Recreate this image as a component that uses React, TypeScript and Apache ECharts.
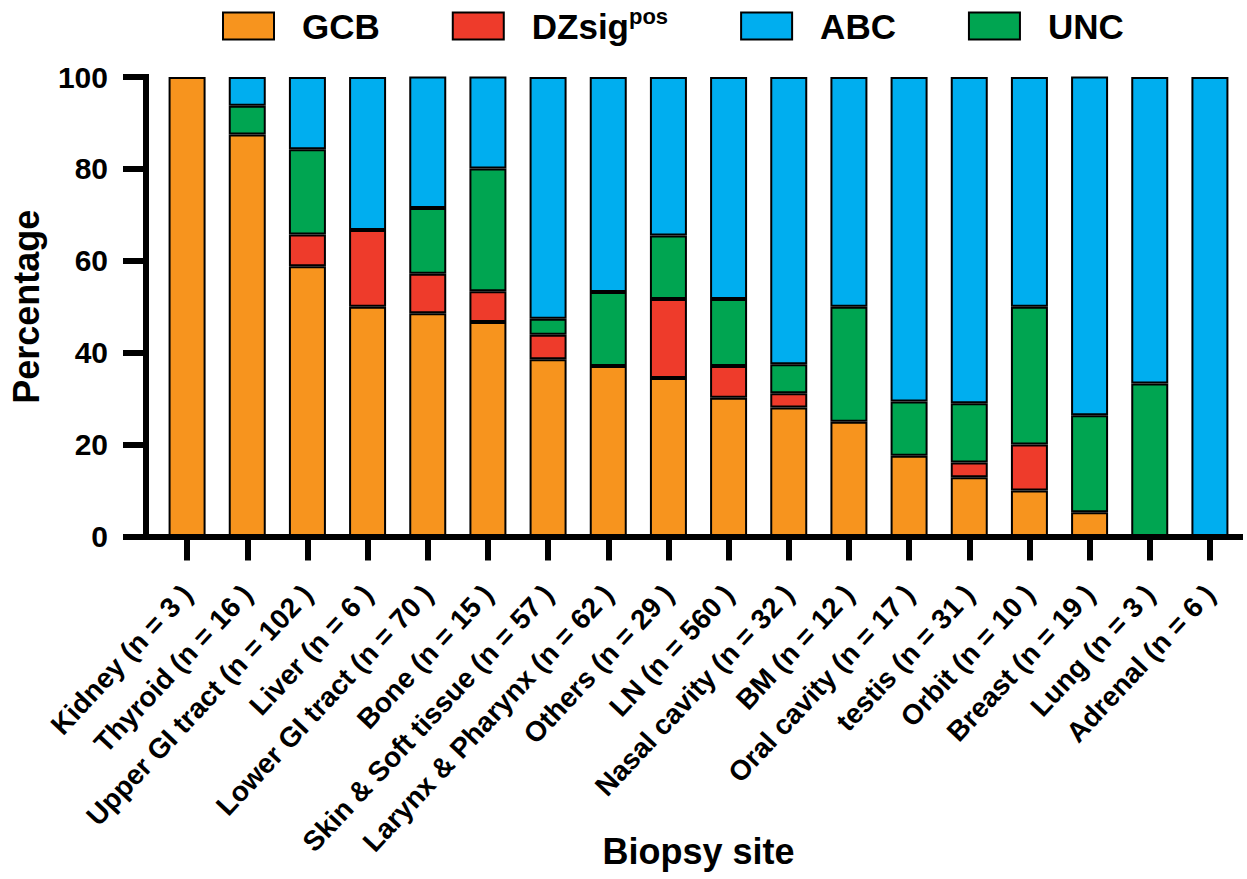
import React, { useEffect, useRef } from "react";
import * as echarts from "echarts";

// Biopsy sites with the number of cases in each
const categories = [
  "Kidney (n = 3 )",
  "Thyroid (n = 16 )",
  "Upper GI tract (n = 102 )",
  "Liver (n = 6 )",
  "Lower GI tract (n = 70 )",
  "Bone (n = 15 )",
  "Skin & Soft tissue (n = 57 )",
  "Larynx & Pharynx (n = 62 )",
  "Others (n = 29 )",
  "LN (n = 560 )",
  "Nasal cavity (n = 32 )",
  "BM (n = 12 )",
  "Oral cavity (n = 17 )",
  "testis (n = 31 )",
  "Orbit (n = 10 )",
  "Breast (n = 19 )",
  "Lung (n = 3 )",
  "Adrenal (n = 6 )",
];

// Percentage of each subtype per site (stacked bottom to top: GCB, DZsig, UNC, ABC)
const gcb = [100, 87.5, 58.8, 50, 48.6, 46.7, 38.6, 37.1, 34.5, 30.2, 28.1, 25, 17.6, 12.9, 10, 5.3, 0, 0];
const dzsig = [0, 0, 6.9, 16.7, 8.6, 6.7, 5.3, 0, 17.2, 6.9, 3.1, 0, 0, 3.2, 10, 0, 0, 0];
const unc = [0, 6.25, 18.6, 0, 14.3, 26.7, 3.5, 16.1, 13.8, 14.6, 6.3, 25, 11.8, 12.9, 30, 21.1, 33.3, 0];
const abc = [0, 6.25, 15.7, 33.3, 28.6, 20, 52.6, 46.8, 34.5, 48.3, 62.5, 50, 70.6, 71, 50, 73.7, 66.7, 100];

const yTicks = { min: 0, max: 100, interval: 20 };

const FONT = "'Liberation Sans', Arial, Helvetica, sans-serif";

const COLORS: Record<string, string> = {
  GCB: "#F7941E",
  DZsig: "#EE3B2B",
  ABC: "#00AEEF",
  UNC: "#00A551",
};

export default function App() {
  const ref = useRef<HTMLDivElement>(null);

  useEffect(() => {
    if (!ref.current) return;
    const chart = echarts.init(ref.current, null, { renderer: "svg" });

    const gridTop = 77;
    const gridBottom = 342.5;

    const barSeries = (name: string, values: number[]) => ({
      name,
      type: "bar",
      stack: "total",
      xAxisIndex: 1,
      yAxisIndex: 1,
      barWidth: 37,
      data: values.map((v) => (v === 0 ? null : v)),
      itemStyle: { color: COLORS[name], borderColor: "#000", borderWidth: 2 },
      emphasis: { disabled: true },
    });

    chart.setOption({
      animation: false,
      backgroundColor: "#fff",
      textStyle: { fontFamily: FONT },
      legend: {
        data: ["GCB", "DZsig", "ABC", "UNC"],
        left: 217,
        top: 0,
        itemWidth: 51,
        itemHeight: 27,
        itemGap: 72,
        selectedMode: false,
        icon: "rect",
        itemStyle: { borderColor: "#000", borderWidth: 2 },
        formatter: (name: string) =>
          name === "DZsig" ? "{n|DZsig}{s|pos}" : `{n|${name}}`,
        textStyle: {
          padding: [0, 0, 0, 23],
          rich: {
            n: {
              fontFamily: FONT,
              fontWeight: "bold",
              fontSize: 35,
              lineHeight: 42,
              color: "#000",
            },
            s: {
              fontFamily: FONT,
              fontWeight: "bold",
              fontSize: 22,
              lineHeight: 22,
              verticalAlign: "top",
              color: "#000",
            },
          },
        },
      },
      grid: [
        { left: 146, right: 7, top: gridTop, bottom: gridBottom, outerBoundsMode: "none" },
        { left: 157, right: 7, top: gridTop, bottom: gridBottom, outerBoundsMode: "none" },
      ],
      xAxis: [
        {
          gridIndex: 0,
          type: "value",
          min: 0,
          max: 1,
          z: 5,
          axisLine: { show: true, lineStyle: { color: "#000", width: 6, cap: "square" } },
          axisTick: { show: false },
          axisLabel: { show: false },
          splitLine: { show: false },
        },
        {
          gridIndex: 1,
          type: "category",
          data: categories,
          z: 5,
          axisLine: { show: false },
          axisTick: {
            show: true,
            alignWithLabel: true,
            length: 24,
            lineStyle: { color: "#000", width: 6 },
          },
          axisLabel: {
            interval: 0,
            rotate: 47,
            margin: 53,
            fontFamily: FONT,
            fontWeight: "bold",
            fontSize: 28,
            color: "#000",
          },
          name: "Biopsy site",
          nameLocation: "middle",
          nameGap: 297,
          nameMoveOverlap: false,
          nameTextStyle: {
            fontFamily: FONT,
            fontWeight: "bold",
            fontSize: 36,
            color: "#000",
          },
        },
      ],
      yAxis: [
        {
          gridIndex: 0,
          type: "value",
          ...yTicks,
          z: 5,
          axisLine: { show: true, lineStyle: { color: "#000", width: 6, cap: "square" } },
          axisTick: { show: true, length: 23, lineStyle: { color: "#000", width: 6 } },
          axisLabel: {
            margin: 38,
            fontFamily: FONT,
            fontWeight: "bold",
            fontSize: 30,
            color: "#000",
          },
          splitLine: { show: false },
          name: "Percentage",
          nameLocation: "middle",
          nameGap: 102,
          nameMoveOverlap: false,
          nameTextStyle: {
            fontFamily: FONT,
            fontWeight: "bold",
            fontSize: 36,
            color: "#000",
          },
        },
        {
          gridIndex: 1,
          type: "value",
          ...yTicks,
          show: false,
          splitLine: { show: false },
        },
      ],
      series: [
        barSeries("GCB", gcb),
        barSeries("DZsig", dzsig),
        barSeries("UNC", unc),
        barSeries("ABC", abc),
      ],
    });

    return () => chart.dispose();
  }, []);

  return (
    <div
      ref={ref}
      style={{ position: "fixed", left: 0, top: 0, width: 1247, height: 879 }}
    />
  );
}
